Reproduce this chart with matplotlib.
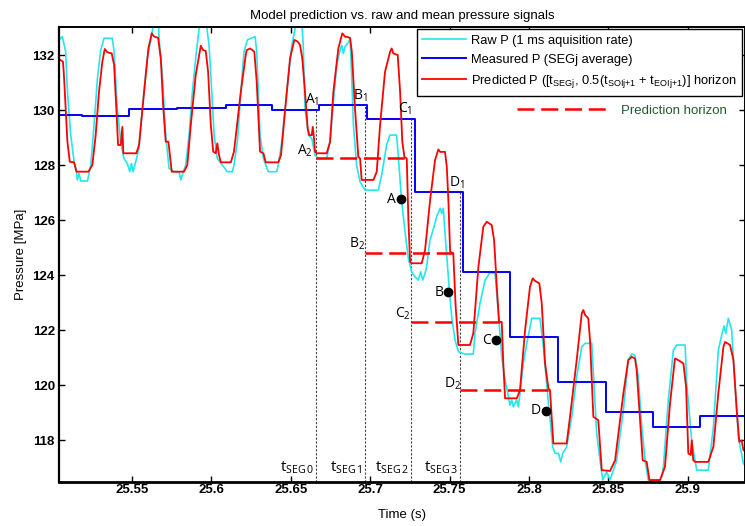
import matplotlib
matplotlib.use("Agg")
import matplotlib.pyplot as plt
from matplotlib.lines import Line2D

plt.rcParams['font.family'] = ['Liberation Sans', 'DejaVu Sans']
plt.rcParams['mathtext.default'] = 'regular'

# ---------------- data ----------------
raw_t = [25.5040, 25.5061, 25.5082, 25.5093, 25.5114, 25.5135, 25.5150, 25.5155, 25.5166, 25.5177,
         25.5219, 25.5240, 25.5261, 25.5282, 25.5303, 25.5324, 25.5376, 25.5387, 25.5407, 25.5429,
         25.5449, 25.5470, 25.5486, 25.5496, 25.5507, 25.5523, 25.5544, 25.5565, 25.5596, 25.5624,
         25.5639, 25.5666, 25.5670, 25.5691, 25.5712, 25.5733, 25.5765, 25.5796, 25.5807, 25.5822,
         25.5838, 25.5859, 25.5880, 25.5901, 25.5922, 25.5930, 25.5964, 25.5985, 25.6002, 25.6017,
         25.6037, 25.6069, 25.6100, 25.6132, 25.6142, 25.6163, 25.6184, 25.6205, 25.6226, 25.6275,
         25.6285, 25.6295, 25.6306, 25.6327, 25.6358, 25.6411, 25.6421, 25.6443, 25.6474, 25.6506,
         25.6527, 25.6535, 25.6568, 25.6578, 25.6589, 25.6611, 25.6632, 25.6652, 25.6673, 25.6726,
         25.6747, 25.6768, 25.6789, 25.6810, 25.6820, 25.6831, 25.6841, 25.6866, 25.6873, 25.6883,
         25.6894, 25.6914, 25.6936, 25.6967, 25.7051, 25.7072, 25.7103, 25.7124, 25.7166, 25.7181,
         25.7198, 25.7219, 25.7240, 25.7261, 25.7282, 25.7303, 25.7318, 25.7330, 25.7345, 25.7355,
         25.7376, 25.7402, 25.7418, 25.7440, 25.7450, 25.7460, 25.7471, 25.7482, 25.7498, 25.7513,
         25.7534, 25.7556, 25.7597, 25.7649, 25.7660, 25.7691, 25.7723, 25.7754, 25.7786, 25.7807,
         25.7828, 25.7849, 25.7870, 25.7880, 25.7891, 25.7901, 25.7922, 25.7933, 25.7943, 25.7964,
         25.7986, 25.8017, 25.8069, 25.8090, 25.8122, 25.8137, 25.8149, 25.8164, 25.8185, 25.8200,
         25.8212, 25.8237, 25.8269, 25.8300, 25.8332, 25.8353, 25.8395, 25.8409, 25.8426, 25.8447,
         25.8464, 25.8489, 25.8510, 25.8531, 25.8552, 25.8594, 25.8625, 25.8647, 25.8667, 25.8688,
         25.8710, 25.8731, 25.8751, 25.8825, 25.8836, 25.8846, 25.8877, 25.8909, 25.8930, 25.8983,
         25.8993, 25.9025, 25.9056, 25.9129, 25.9161, 25.9192, 25.9213, 25.9228, 25.9239, 25.9255,
         25.9276, 25.9297, 25.9318, 25.9350, 25.9360]
raw_p = [132.56, 132.68, 132.13, 130.68, 129.10, 128.13, 127.77, 127.47, 127.71, 127.43,
         127.43, 128.01, 129.47, 131.16, 132.19, 132.62, 132.62, 132.13, 130.07, 128.86,
         128.25, 128.07, 127.77, 128.07, 127.77, 128.13, 128.62, 130.07, 131.89, 132.74,
         133.30, 133.30, 132.62, 131.28, 129.10, 127.89, 127.77, 127.77, 127.47, 127.77,
         128.01, 129.10, 130.68, 131.89, 132.98, 133.30, 133.30, 132.37, 130.68, 129.10,
         128.25, 128.01, 127.77, 127.77, 128.01, 128.86, 130.56, 132.13, 132.56, 132.68,
         132.13, 130.68, 129.10, 128.25, 127.77, 127.77, 128.01, 128.86, 130.68, 132.37,
         132.98, 133.30, 133.30, 132.37, 130.07, 129.10, 128.98, 128.37, 128.25, 128.25,
         128.86, 130.31, 131.65, 132.19, 132.37, 132.07, 132.31, 132.50, 132.62, 131.28,
         129.47, 128.01, 127.40, 127.10, 127.10, 127.65, 128.74, 129.10, 129.10, 128.01,
         126.68, 125.59, 124.62, 124.13, 123.95, 123.83, 124.13, 123.83, 124.07, 124.31,
         125.28, 125.77, 126.13, 126.44, 126.25, 126.44, 125.53, 124.68, 123.47, 122.49,
         121.65, 121.22, 121.14, 121.14, 121.90, 122.98, 123.83, 124.10, 124.07, 122.62,
         121.04, 120.19, 119.59, 119.28, 119.47, 119.22, 119.47, 119.22, 119.71, 120.80,
         121.53, 122.44, 122.44, 121.40, 119.35, 118.50, 117.77, 117.53, 117.53, 117.22,
         117.53, 117.77, 118.86, 120.31, 121.40, 121.53, 121.53, 120.07, 118.25, 117.28,
         116.56, 116.86, 116.56, 116.92, 117.28, 119.10, 120.93, 121.14, 121.10, 120.31,
         118.49, 117.28, 116.56, 116.56, 116.68, 117.04, 119.47, 121.28, 121.47, 121.47,
         120.07, 117.95, 116.92, 116.92, 118.49, 121.28, 121.83, 122.16, 121.89, 122.44,
         122.01, 120.07, 118.13, 117.16, 117.10]

pred_t = [25.5049, 25.5065, 25.5071, 25.5093, 25.5108, 25.5135, 25.5150, 25.5225, 25.5250, 25.5271,
          25.5292, 25.5313, 25.5328, 25.5345, 25.5372, 25.5387, 25.5401, 25.5412, 25.5429, 25.5439,
          25.5445, 25.5460, 25.5527, 25.5544, 25.5576, 25.5603, 25.5624, 25.5639, 25.5664, 25.5681,
          25.5697, 25.5712, 25.5729, 25.5750, 25.5827, 25.5848, 25.5870, 25.5901, 25.5933, 25.5947,
          25.5964, 25.5979, 25.5996, 25.6011, 25.6027, 25.6037, 25.6048, 25.6059, 25.6122, 25.6142,
          25.6185, 25.6216, 25.6222, 25.6243, 25.6258, 25.6270, 25.6285, 25.6306, 25.6327, 25.6342,
          25.6421, 25.6438, 25.6463, 25.6495, 25.6522, 25.6543, 25.6558, 25.6572, 25.6589, 25.6606,
          25.6616, 25.6632, 25.6638, 25.6646, 25.6652, 25.6663, 25.6726, 25.6747, 25.6768, 25.6799,
          25.6824, 25.6841, 25.6873, 25.6884, 25.6904, 25.6925, 25.6936, 25.6946, 25.7020, 25.7041,
          25.7062, 25.7093, 25.7125, 25.7135, 25.7145, 25.7173, 25.7188, 25.7202, 25.7215, 25.7230,
          25.7240, 25.7251, 25.7261, 25.7324, 25.7345, 25.7377, 25.7408, 25.7429, 25.7440, 25.7471,
          25.7482, 25.7492, 25.7503, 25.7523, 25.7538, 25.7555, 25.7628, 25.7649, 25.7681, 25.7712,
          25.7734, 25.7765, 25.7780, 25.7797, 25.7811, 25.7828, 25.7838, 25.7849, 25.7923, 25.7943,
          25.7975, 25.8006, 25.8023, 25.8038, 25.8065, 25.8080, 25.8101, 25.8122, 25.8132, 25.8153,
          25.8237, 25.8258, 25.8300, 25.8332, 25.8342, 25.8353, 25.8373, 25.8384, 25.8405, 25.8436,
          25.8458, 25.8510, 25.8542, 25.8594, 25.8625, 25.8647, 25.8667, 25.8678, 25.8699, 25.8716,
          25.8741, 25.8758, 25.8825, 25.8856, 25.8888, 25.8919, 25.8940, 25.8972, 25.8989, 25.9003,
          25.9018, 25.9025, 25.9034, 25.9047, 25.9129, 25.9161, 25.9192, 25.9224, 25.9234, 25.9266,
          25.9287, 25.9308, 25.9324, 25.9339, 25.9350, 25.9360]
pred_p = [131.83, 131.77, 131.28, 128.86, 128.13, 128.11, 127.77, 127.77, 128.01, 129.10,
          130.68, 131.77, 132.23, 132.11, 132.07, 131.65, 130.07, 128.74, 128.74, 129.40,
          128.44, 128.44, 128.44, 128.74, 130.68, 132.25, 132.80, 132.68, 132.64, 131.89,
          130.07, 128.86, 128.86, 127.77, 127.77, 128.01, 129.47, 131.28, 132.35, 132.19,
          132.16, 131.40, 129.47, 128.50, 128.44, 128.80, 128.37, 128.11, 128.11, 128.50,
          130.68, 132.01, 132.19, 132.25, 132.19, 132.13, 131.04, 128.50, 128.44, 128.11,
          128.11, 128.37, 129.95, 131.89, 132.56, 132.50, 132.37, 131.89, 130.68, 129.35,
          129.10, 129.10, 129.40, 128.98, 128.50, 128.44, 128.44, 128.86, 130.68, 132.25,
          132.80, 132.68, 132.64, 132.13, 130.07, 128.31, 128.25, 127.47, 127.47, 127.77,
          129.47, 131.40, 132.13, 132.25, 132.07, 132.01, 130.68, 128.86, 128.31, 128.25,
          126.07, 124.50, 124.44, 124.44, 124.91, 126.74, 128.19, 128.58, 128.49, 128.49,
          127.95, 126.74, 124.86, 124.80, 122.86, 121.47, 121.47, 121.89, 124.31, 125.77,
          125.95, 125.83, 125.28, 123.59, 122.31, 122.31, 120.80, 119.53, 119.53, 119.83,
          122.01, 123.59, 123.89, 123.80, 123.71, 122.98, 120.80, 119.89, 119.83, 117.89,
          117.89, 118.86, 120.92, 122.62, 122.74, 122.56, 122.44, 121.65, 118.86, 118.74,
          116.92, 116.89, 117.28, 119.71, 120.92, 121.04, 120.98, 120.56, 118.74, 117.28,
          117.22, 116.56, 116.56, 117.04, 119.35, 120.98, 120.92, 120.80, 119.95, 117.53,
          117.47, 118.00, 117.28, 117.22, 117.22, 117.77, 119.71, 121.40, 121.58, 121.47,
          120.92, 119.10, 117.95, 118.00, 117.65, 117.60]

meas_t = [25.5040, 25.5183, 25.5480, 25.5780, 25.6090, 25.6380, 25.6678, 25.6978, 25.7282,
          25.7586, 25.7880, 25.8185, 25.8485, 25.8783, 25.9077, 25.9360]
meas_p = [129.84, 129.79, 130.05, 130.09, 130.18, 130.00, 130.20, 129.68, 127.02,
          124.13, 121.75, 120.13, 119.04, 118.49, 118.89, 118.89]

# segment instants, with measured level at each
seg_t = [25.6659, 25.6967, 25.7257, 25.7567]
seg_top = [130.00, 130.20, 129.68, 127.02]
seg_names = ['A', 'B', 'C', 'D']

# prediction horizons (value, end time)
hor_p = [128.25, 124.81, 122.31, 119.83]
hor_end = [25.7219, 25.7524, 25.7817, 25.8132]

# real pressure points at horizon end
pt_t = [25.7192, 25.7492, 25.7792, 25.8107]
pt_p = [126.77, 123.38, 121.64, 119.08]

x_ticks = [25.55, 25.6, 25.65, 25.7, 25.75, 25.8, 25.85, 25.9]
x_tick_labels = ['25.55', '25.6', '25.65', '25.7', '25.75', '25.8', '25.85', '25.9']
y_ticks = [118, 120, 122, 124, 126, 128, 130, 132]

# ---------------- figure ----------------
fig = plt.figure(figsize=(7.45, 5.26), dpi=100)
ax = fig.add_axes([59 / 745, 44.3 / 526, 686 / 745, 454.7 / 526])

h_raw, = ax.plot(raw_t, raw_p, color='#22e8ee', lw=1.2, label='Raw P (1 ms aquisition rate)')
h_meas, = ax.plot(meas_t, meas_p, color='#0000ff', lw=1.4, drawstyle='steps-post',
                  label='Measured P (SEGj average)')
h_pred, = ax.plot(pred_t, pred_p, color='#ff0000', lw=1.3,
                  label='Predicted P ([t$_{SEGj}$, 0.5(t$_{SOIj{+}1}$ + t$_{EOIj{+}1}$)] horizon')

ax.set_xlim(25.504, 25.936)
ax.set_ylim(116.5, 133.03)

# vertical segment lines
ax.vlines(seg_t, 116.5, seg_top, colors='#444444', lw=0.8, linestyles=(0, (2.0, 1.5)), zorder=1)

# prediction horizons
dash = (0, (6.8, 2.7))
for t0, p, t1 in zip(seg_t, hor_p, hor_end):
    ax.plot([t0, t1], [p, p], color='#ff0000', lw=1.8, linestyle=dash, zorder=4)

# points
ax.plot(pt_t, pt_p, 'o', color='black', ms=6, zorder=6)

lab_font = dict(family=['Open Sans', 'DejaVu Sans'], fontsize=10)
px = 0.72  # points per pixel
offs1 = [(-4, 11), (-4.5, 9), (-6, 10), (-3, 10)]
offs2 = [(-11, 8), (-8, 9), (-8, 7.7), (-8, 6)]
for i, n in enumerate(seg_names):
    ax.annotate(n + '$_1$', (seg_t[i], seg_top[i]), xytext=(offs1[i][0] * px, offs1[i][1] * px),
                textcoords='offset points', ha='center', va='center', **lab_font)
    ax.annotate(n + '$_2$', (seg_t[i], hor_p[i]), xytext=(offs2[i][0] * px, offs2[i][1] * px),
                textcoords='offset points', ha='center', va='center', **lab_font)
    ax.annotate(n, (pt_t[i], pt_p[i]), xytext=(-5 * px, 0), textcoords='offset points',
                ha='right', va='center', **lab_font)
    ax.annotate('t$_{SEG\\,%d}$' % i, (seg_t[i], 116.5), xytext=(-2 * px, 14 * px),
                textcoords='offset points', ha='right', va='center',
                family=['Open Sans', 'DejaVu Sans'], fontsize=11)

# axes styling
ax.set_xticks(x_ticks)
ax.set_xticklabels(x_tick_labels)
ax.set_yticks(y_ticks)
ax.tick_params(direction='in', top=True, right=True, length=4.5, width=1.0,
               labelsize=9.5, pad=3)
ax.tick_params(axis='x', pad=2)
for lab in ax.get_xticklabels() + ax.get_yticklabels():
    lab.set_fontweight('bold')
for s in ax.spines.values():
    s.set_linewidth(1.4)
ax.spines['bottom'].set_linewidth(2.0)
ax.spines['left'].set_linewidth(1.6)

ax.set_title('Model prediction vs. raw and mean pressure signals', fontsize=9.5, pad=6)
ax.set_xlabel('Time (s)', fontsize=9.5, labelpad=9)
ax.set_ylabel('Pressure [MPa]', fontsize=9.5, labelpad=4)

leg = ax.legend(handles=[h_raw, h_meas, h_pred], loc='upper left',
                bbox_to_anchor=(0.5214, 0.9956), fontsize=9.3, handlelength=3.4,
                handletextpad=0.35, borderpad=0.45, labelspacing=0.55, fancybox=False,
                framealpha=1, edgecolor='black', borderaxespad=0)
leg.get_frame().set_linewidth(1.0)
ax.add_artist(leg)

hz = Line2D([], [], color='#ff0000', lw=1.8, linestyle=dash)
leg2 = ax.legend(handles=[hz], labels=['Prediction horizon'], loc='center left',
                 bbox_to_anchor=(0.6672, 0.8153), frameon=False, fontsize=9.5,
                 handlelength=7.0, handletextpad=0.9, borderpad=0, borderaxespad=0)
for txt in leg2.get_texts():
    txt.set_color('#235a2d')

fig.savefig('out.png', dpi=100)
